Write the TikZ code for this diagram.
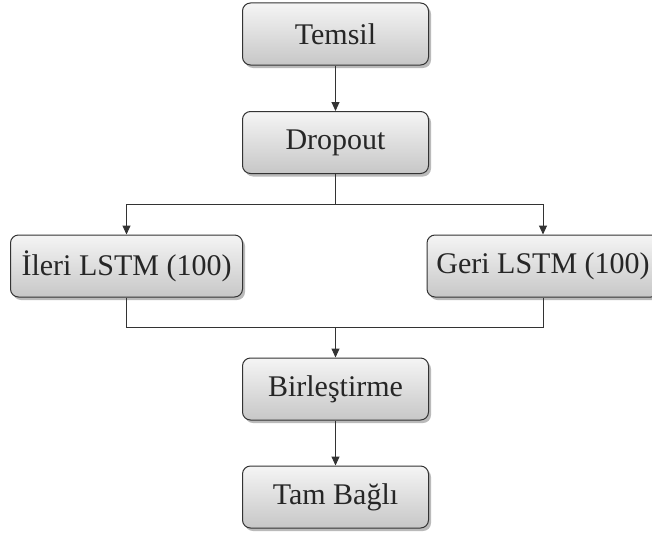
\documentclass[tikz,border=0pt]{standalone}
\usepackage{fontspec}
\setmainfont{Liberation Serif}
\usetikzlibrary{shadows,arrows.meta}
\begin{document}
\begin{tikzpicture}[x=1pt,y=-1pt,
  block/.style={draw=black!80, line width=1pt, rounded corners=8pt,
    top color=white!96!black, bottom color=black!22,
    minimum height=62pt, inner sep=0pt,
    font=\fontsize{30}{32}\selectfont, text=black!85,
    drop shadow={shadow xshift=2.5pt, shadow yshift=-3pt, fill=black!45, opacity=0.6}},
  wide/.style={block, minimum width=186pt},
  lstm/.style={block, minimum width=232pt},
  link/.style={draw=black!80, line width=1pt},
  arr/.style={link, -{Triangle[length=9pt,width=8pt]}}]
\useasboundingbox (0,0) rectangle (652,535);

% processing stages
\node[wide] (temsil) at (335.5,34) {Temsil};
\node[wide] (drop)   at (335.5,142.5) {Dropout};
\node[lstm] (ileri)  at (126.5,266) {İleri LSTM (100)};
\node[lstm] (geri)   at (543,266) {Geri LSTM (100)};
\node[wide] (birl)   at (335.5,389) {Birleştirme};
\node[wide] (tam)    at (335.5,497) {Tam Bağlı};

% branch and merge points
\coordinate (split) at (335.5,204);
\coordinate (join)  at (335.5,327);

% connectors
\draw[arr] (temsil) -- (drop);
\draw[link] (drop.south) -- (split);
\draw[arr] (split) -| (ileri.north);
\draw[arr] (split) -| (geri.north);
\draw[link] (ileri.south) -- ++(0,30) -| (geri.south);
\draw[arr] (join) -- (birl);
\draw[arr] (birl) -- (tam);
\end{tikzpicture}
\end{document}
